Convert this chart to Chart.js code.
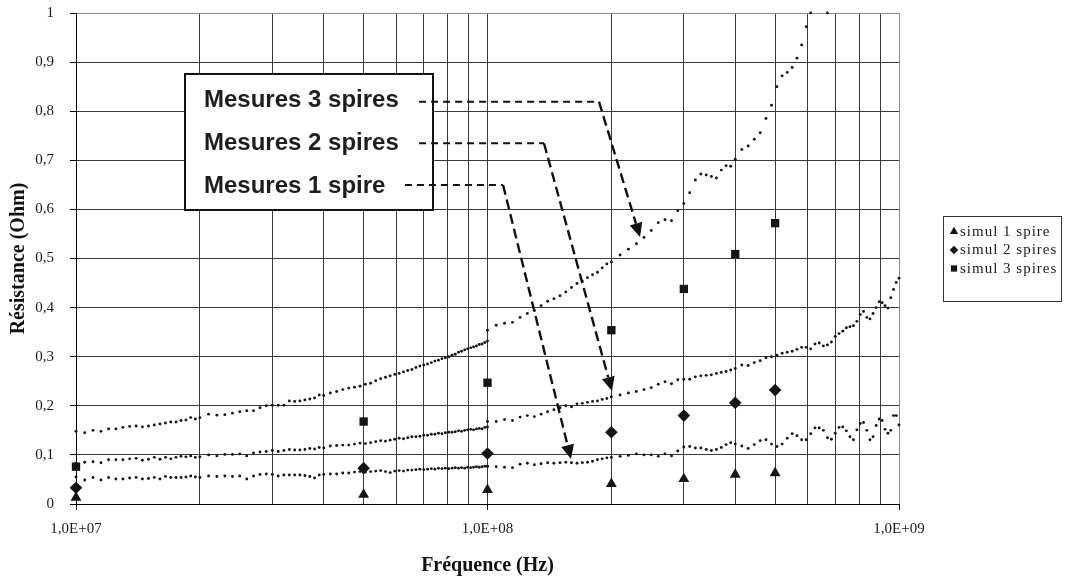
<!DOCTYPE html>
<html>
<head>
<meta charset="utf-8">
<script src="https://cdn.jsdelivr.net/npm/chart.js"></script>
<style>
html,body{margin:0;padding:0;background:#fff;}
#wrap{width:1070px;height:583px;position:relative;}
</style>
</head>
<body>
<div id="wrap"><canvas id="c"></canvas></div>
<script>
// ---------- DATA ----------
// Measurement sweeps (frequency in MHz): 10-100 MHz then 100 MHz-1 GHz
const freqMHz = [
  10,10.5,11,11.5,12,12.5,13,13.5,14,14.5,15,15.5,16,16.5,17,17.5,18,18.5,19,19.5,
  20,21,22,23,24,25,26,27,28,29,30,31,32,33,34,35,36,37,38,39,40,
  41.5,43,44.5,46,47.5,49,50.5,52,53.5,55,56.5,58,59.5,61,62.5,64,65.5,67,68.5,70,
  71.5,73,74.5,76,77.5,79,80.5,82,83.5,85,86.5,88,89.5,91,92.5,94,95.5,97,98.5,100,
  100,105,110,115,120,125,130,135,140,145,150,155,160,165,170,175,180,185,190,195,
  200,210,220,230,240,250,260,270,280,290,300,310,320,330,340,350,360,370,380,390,400,
  415,430,445,460,475,490,505,520,535,550,565,580,595,610,625,640,655,670,685,700,
  715,730,745,760,775,790,805,820,835,850,865,880,895,910,925,940,955,970,985,1000
];
const mes1 = [
  0.055,0.049,0.054,0.049,0.054,0.051,0.051,0.053,0.054,0.051,0.052,0.054,0.051,0.056,0.054,0.054,0.054,0.055,0.057,0.055,
  0.054,0.057,0.056,0.057,0.056,0.057,0.051,0.057,0.060,0.061,0.060,0.057,0.059,0.059,0.059,0.059,0.058,0.056,0.053,0.059,0.060,
  0.061,0.061,0.063,0.063,0.065,0.066,0.065,0.066,0.067,0.068,0.066,0.064,0.067,0.068,0.067,0.069,0.069,0.070,0.071,0.070,
  0.071,0.072,0.071,0.073,0.072,0.073,0.072,0.073,0.074,0.073,0.074,0.073,0.075,0.074,0.075,0.076,0.075,0.076,0.077,0.077,
  0.077,0.076,0.075,0.074,0.081,0.083,0.080,0.082,0.084,0.083,0.084,0.085,0.084,0.083,0.084,0.085,0.087,0.090,0.092,0.094,
  0.095,0.097,0.099,0.102,0.100,0.100,0.097,0.102,0.098,0.108,0.116,0.117,0.114,0.114,0.111,0.109,0.111,0.115,0.121,0.125,0.122,
  0.118,0.113,0.121,0.129,0.131,0.122,0.117,0.122,0.134,0.143,0.139,0.131,0.131,0.143,0.155,0.155,0.150,0.135,0.132,0.144,
  0.156,0.157,0.149,0.137,0.131,0.151,0.164,0.166,0.150,0.131,0.137,0.160,0.173,0.170,0.152,0.144,0.150,0.180,0.180,0.161
];
const mes2 = [
  0.083,0.085,0.086,0.084,0.090,0.090,0.090,0.092,0.093,0.089,0.091,0.095,0.091,0.095,0.092,0.095,0.097,0.096,0.098,0.095,
  0.096,0.100,0.098,0.101,0.101,0.102,0.098,0.104,0.106,0.107,0.109,0.107,0.109,0.111,0.110,0.110,0.111,0.113,0.112,0.115,0.114,
  0.118,0.119,0.120,0.120,0.122,0.124,0.123,0.125,0.127,0.129,0.128,0.130,0.132,0.134,0.133,0.135,0.137,0.137,0.138,0.140,
  0.140,0.142,0.142,0.144,0.143,0.145,0.146,0.146,0.147,0.149,0.148,0.150,0.151,0.152,0.151,0.153,0.154,0.153,0.156,0.157,
  0.168,0.168,0.172,0.170,0.177,0.180,0.178,0.183,0.188,0.192,0.196,0.200,0.198,0.204,0.205,0.207,0.209,0.210,0.213,0.215,
  0.218,0.222,0.226,0.229,0.233,0.237,0.244,0.249,0.245,0.253,0.254,0.254,0.259,0.261,0.262,0.263,0.266,0.268,0.270,0.273,0.276,
  0.283,0.282,0.288,0.292,0.298,0.300,0.303,0.307,0.309,0.311,0.315,0.319,0.319,0.316,0.326,0.328,0.322,0.324,0.330,0.341,
  0.347,0.352,0.359,0.361,0.363,0.372,0.386,0.392,0.380,0.377,0.388,0.400,0.412,0.410,0.404,0.399,0.420,0.437,0.451,0.460
];
const mes3 = [
  0.148,0.145,0.150,0.148,0.153,0.153,0.156,0.158,0.159,0.157,0.159,0.161,0.163,0.165,0.167,0.167,0.170,0.171,0.176,0.173,
  0.176,0.183,0.181,0.182,0.185,0.188,0.190,0.190,0.196,0.200,0.201,0.201,0.201,0.210,0.209,0.210,0.212,0.214,0.216,0.222,0.221,
  0.226,0.229,0.233,0.236,0.238,0.240,0.244,0.246,0.251,0.255,0.258,0.261,0.264,0.266,0.269,0.272,0.274,0.278,0.281,0.283,
  0.285,0.288,0.291,0.293,0.296,0.298,0.300,0.303,0.305,0.309,0.311,0.314,0.316,0.318,0.320,0.322,0.325,0.326,0.329,0.332,
  0.354,0.364,0.368,0.370,0.380,0.388,0.394,0.404,0.413,0.418,0.424,0.432,0.441,0.449,0.454,0.461,0.467,0.472,0.481,0.489,
  0.493,0.507,0.519,0.530,0.543,0.557,0.573,0.579,0.577,0.597,0.612,0.634,0.660,0.672,0.670,0.667,0.664,0.680,0.689,0.688,0.702,
  0.722,0.729,0.743,0.756,0.785,0.812,0.850,0.872,0.879,0.889,0.908,0.935,0.972,1.000,null,null,null,1.000,null,null,
  null,null,null,null,null,null,null,null,null,null,null,null,null,null,null,null,null,null,null,null
];
const mesLabels = ['Mesures 1 spire','Mesures 2 spires','Mesures 3 spires'];

// Simulations
const simFreqMHz = [10, 50, 100, 200, 300, 400, 500];
const sim1 = [0.013, 0.019, 0.029, 0.041, 0.051, 0.060, 0.063];
const sim2 = [0.033, 0.073, 0.103, 0.146, 0.180, 0.206, 0.232];
const sim3 = [0.076, 0.168, 0.247, 0.354, 0.438, 0.509, 0.572];
const simLabels = ['simul 1 spire','simul 2 spires','simul 3 spires'];

// Axes
const xDecades = [1e7, 1e8, 1e9];
const xTickLabels = ['1,0E+07','1,0E+08','1,0E+09'];
const yTickLabels = ['0','0,1','0,2','0,3','0,4','0,5','0,6','0,7','0,8','0,9','1'];

// Callout annotation (data coordinates: Hz, Ohm)
const calloutBox = {f0: 1.84e7, f1: 7.37e7, r0: 0.876, r1: 0.599, textF: 2.047e7};
const callouts = [
  {label: mesLabels[2], textR: 0.8086, lineR: 0.8194, startF: 6.82e7, elbowF: 1.866e8, tipF: 2.348e8, tipR: 0.5438},
  {label: mesLabels[1], textR: 0.7210, lineR: 0.7346, startF: 6.82e7, elbowF: 1.372e8, tipF: 2.007e8, tipR: 0.2301},
  {label: mesLabels[0], textR: 0.6334, lineR: 0.6497, startF: 6.30e7, elbowF: 1.091e8, tipF: 1.5955e8, tipR: 0.0916}
];

// ---------- CHART ----------
const SERIF = '"Liberation Serif", "Times New Roman", serif';
const SANS = '"Liberation Sans", Arial, sans-serif';

function mesData(vals){ return freqMHz.map((f,i)=>({x:f*1e6, y:vals[i]})); }
function simData(vals){ return simFreqMHz.map((f,i)=>({x:f*1e6, y:vals[i]})); }

const dotStyle = {showLine:false, pointRadius:1.45, pointHoverRadius:0, pointBorderWidth:0,
  pointBackgroundColor:'#161616', pointBorderColor:'#161616', clip:false};

const datasets = [
  Object.assign({label: mesLabels[0], data: mesData(mes1)}, dotStyle),
  Object.assign({label: mesLabels[1], data: mesData(mes2)}, dotStyle),
  Object.assign({label: mesLabels[2], data: mesData(mes3)}, dotStyle),
  {label: simLabels[0], data: simData(sim1), pointStyle:'triangle', pointRadius:6.3, pointBorderWidth:0,
   pointBackgroundColor:'#151515', pointBorderColor:'#151515', showLine:false, clip:false, isSim:true},
  {label: simLabels[1], data: simData(sim2), pointStyle:'rectRot', pointRadius:6.3, pointBorderWidth:0,
   pointBackgroundColor:'#151515', pointBorderColor:'#151515', showLine:false, clip:false, isSim:true},
  {label: simLabels[2], data: simData(sim3), pointStyle:'rect', pointRadius:5.9, pointBorderWidth:0,
   pointBackgroundColor:'#151515', pointBorderColor:'#151515', showLine:false, clip:false, isSim:true}
];

function markerPath(ctx, style, x, y, r){
  ctx.beginPath();
  if(style==='triangle'){
    ctx.moveTo(x, y - r);
    ctx.lineTo(x + r*0.866, y + r*0.5);
    ctx.lineTo(x - r*0.866, y + r*0.5);
  } else if(style==='rectRot'){
    ctx.moveTo(x, y - r); ctx.lineTo(x + r, y); ctx.lineTo(x, y + r); ctx.lineTo(x - r, y);
  } else {
    ctx.rect(x - r*0.8, y - r*0.8, r*1.6, r*1.6);
  }
  ctx.closePath();
  ctx.fill();
}

const legendPlugin = {
  id:'simLegend',
  afterDraw(chart){
    const {ctx, chartArea:a} = chart;
    const w = 118, h = 85;
    const L = a.right + 44, T = Math.round((a.top + a.bottom)/2 - h/2);
    ctx.save();
    ctx.fillStyle = '#fff';
    ctx.fillRect(L, T, w, h);
    ctx.strokeStyle = '#333'; ctx.lineWidth = 1;
    ctx.strokeRect(L + 0.5, T + 0.5, w, h);
    const sims = chart.data.datasets.filter(d=>d.isSim);
    ctx.font = '15px ' + SERIF;
    try { ctx.letterSpacing = '1px'; } catch(e){}
    ctx.textBaseline = 'middle';
    ctx.textAlign = 'left';
    sims.forEach((ds,i)=>{
      const yy = T + 15.5 + i*18.5;
      ctx.fillStyle = '#151515';
      markerPath(ctx, ds.pointStyle, L + 11, yy, ds.pointStyle==='triangle'?4.8:(ds.pointStyle==='rectRot'?4.3:3.9));
      ctx.fillStyle = '#1a1a1a';
      ctx.fillText(ds.label, L + 17, yy + 0.5);
    });
    ctx.restore();
  }
};

const calloutPlugin = {
  id:'callouts',
  afterDatasetsDraw(chart){
    const {ctx} = chart;
    const xs = chart.scales.x, ys = chart.scales.y;
    const px = v => xs.getPixelForValue(v), py = v => ys.getPixelForValue(v);
    ctx.save();
    const L = Math.round(px(calloutBox.f0)), R = Math.round(px(calloutBox.f1));
    const T = Math.round(py(calloutBox.r0)), B = Math.round(py(calloutBox.r1));
    ctx.fillStyle = '#fff';
    ctx.fillRect(L, T, R - L, B - T);
    ctx.strokeStyle = '#111'; ctx.lineWidth = 2;
    ctx.strokeRect(L, T, R - L, B - T);
    ctx.font = 'bold 24px ' + SANS;
    ctx.fillStyle = '#1e1e1e';
    ctx.textAlign = 'left'; ctx.textBaseline = 'alphabetic';
    const tx0 = px(calloutBox.textF);
    callouts.forEach(c => ctx.fillText(c.label, tx0, py(c.textR)));
    ctx.strokeStyle = '#111'; ctx.fillStyle = '#111';
    callouts.forEach(c => {
      const sx = px(c.startF), ly = py(c.lineR), ex = px(c.elbowF);
      const tx = px(c.tipF), ty = py(c.tipR);
      ctx.lineWidth = 2; ctx.setLineDash([7,5]);
      ctx.beginPath(); ctx.moveTo(sx, ly); ctx.lineTo(ex, ly); ctx.stroke();
      const ang = Math.atan2(ty - ly, tx - ex);
      const len = 14, hw = 6.5;
      const bx = tx - len*Math.cos(ang), by = ty - len*Math.sin(ang);
      ctx.lineWidth = 2.4; ctx.setLineDash([10,5]);
      ctx.beginPath(); ctx.moveTo(ex, ly); ctx.lineTo(bx, by); ctx.stroke();
      ctx.setLineDash([]);
      ctx.beginPath();
      ctx.moveTo(tx, ty);
      ctx.lineTo(bx + hw*Math.sin(ang), by - hw*Math.cos(ang));
      ctx.lineTo(bx - hw*Math.sin(ang), by + hw*Math.cos(ang));
      ctx.closePath(); ctx.fill();
    });
    ctx.restore();
  }
};

new Chart(document.getElementById('c'), {
  type:'scatter',
  data:{datasets},
  options:{
    responsive:true, maintainAspectRatio:false, animation:false, devicePixelRatio:1,
    events:[],
    layout:{autoPadding:false, padding:{left:0, right:171, top:13, bottom:0}},
    plugins:{legend:{display:false}, tooltip:{enabled:false}, title:{display:false}},
    scales:{
      x:{
        type:'logarithmic', min:1e7, max:1e9, position:'bottom',
        afterBuildTicks(s){
          const t = [];
          xDecades.forEach((d,k)=>{
            for(let m=1;m<=9;m++){
              if(k===xDecades.length-1 && m>1) break;
              t.push({value:d*m, major:m===1});
            }
          });
          s.ticks = t;
        },
        afterFit(s){ s.height = 79; s.paddingLeft = 0; s.paddingRight = 0; },
        ticks:{autoSkip:false, maxRotation:0, minRotation:0, padding:10, color:'#1a1a1a',
          font:{family:SERIF, size:15},
          callback(v){ const k = xDecades.indexOf(v); return k>=0 ? xTickLabels[k] : ''; }},
        grid:{
          color: c => (c.tick && c.tick.value===1e9) ? '#8c8c8c' : '#3a3a3a',
          lineWidth:1, drawTicks:true, tickLength:6,
          tickColor: c => (c.tick && c.tick.major) ? '#000' : 'rgba(0,0,0,0)'
        },
        border:{color:'#000', width:1},
        title:{display:true, text:'Fréquence (Hz)', color:'#111',
          font:{family:SERIF, size:20, weight:'bold'}, padding:{top:0, bottom:5}}
      },
      y:{
        min:0, max:1,
        afterFit(s){ s.width = 76; s.paddingTop = 0; s.paddingBottom = 0; },
        ticks:{stepSize:0.1, padding:16, color:'#1a1a1a', font:{family:SERIF, size:15},
          callback:(v,i)=>yTickLabels[i]},
        grid:{
          color: c => (c.tick && c.tick.value>0.999) ? '#8c8c8c' : '#3a3a3a',
          lineWidth:1, drawTicks:true, tickLength:6, tickColor:'#000'
        },
        border:{color:'#000', width:1},
        title:{display:true, text:'Résistance (Ohm)', color:'#111',
          font:{family:SERIF, size:20, weight:'bold'}, padding:{top:6.5, bottom:0}}
      }
    }
  },
  plugins:[calloutPlugin, legendPlugin]
});
</script>
</body>
</html>
